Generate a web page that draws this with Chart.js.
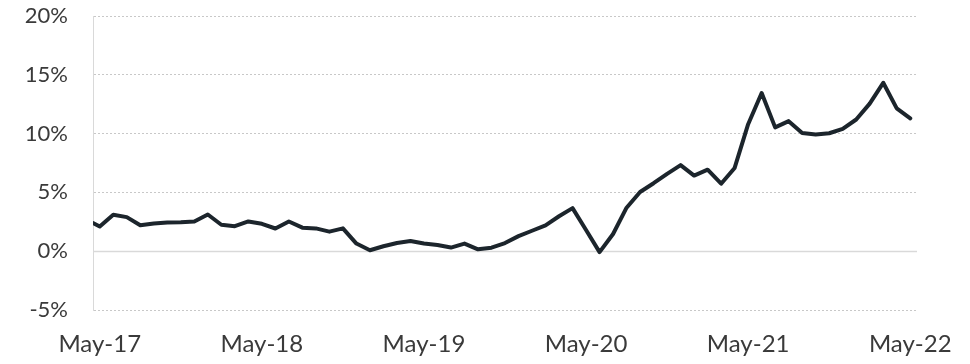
<!DOCTYPE html>
<html>
<head>
<meta charset="utf-8">
<script src="https://cdn.jsdelivr.net/npm/chart.js@4/dist/chart.umd.min.js"></script>
<style>
    html, body { margin: 0; padding: 0; background: #fff; }
    #wrap { width: 970px; height: 364px; position: relative; }
</style>
</head>
<body>
<div id="wrap"><canvas id="chart"></canvas></div>
<script>
// ============================================================================
// Data
// ============================================================================

// monthly points, May-17 .. May-22
const months = [
    'May-17', 'Jun-17', 'Jul-17', 'Aug-17', 'Sep-17', 'Oct-17', 'Nov-17', 'Dec-17', 'Jan-18', 'Feb-18', 'Mar-18', 'Apr-18',
    'May-18', 'Jun-18', 'Jul-18', 'Aug-18', 'Sep-18', 'Oct-18', 'Nov-18', 'Dec-18', 'Jan-19', 'Feb-19', 'Mar-19', 'Apr-19',
    'May-19', 'Jun-19', 'Jul-19', 'Aug-19', 'Sep-19', 'Oct-19', 'Nov-19', 'Dec-19', 'Jan-20', 'Feb-20', 'Mar-20', 'Apr-20',
    'May-20', 'Jun-20', 'Jul-20', 'Aug-20', 'Sep-20', 'Oct-20', 'Nov-20', 'Dec-20', 'Jan-21', 'Feb-21', 'Mar-21', 'Apr-21',
    'May-21', 'Jun-21', 'Jul-21', 'Aug-21', 'Sep-21', 'Oct-21', 'Nov-21', 'Dec-21', 'Jan-22', 'Feb-22', 'Mar-22', 'Apr-22',
    'May-22'
];

// percent
const values = [
    2.10, 3.10, 2.90, 2.20, 2.35, 2.45, 2.47, 2.53, 3.12, 2.25, 2.13, 2.53,
    2.33, 1.93, 2.53, 2.00, 1.94, 1.66, 1.94, 0.65, 0.08, 0.42, 0.70, 0.87,
    0.65, 0.53, 0.31, 0.65, 0.16, 0.30, 0.69, 1.28, 1.74, 2.20, 2.97, 3.66,
    1.80, -0.08, 1.46, 3.70, 5.03, 5.78, 6.58, 7.32, 6.43, 6.93, 5.74, 7.08,
    10.80, 13.45, 10.53, 11.06, 10.06, 9.93, 10.03, 10.40, 11.20, 12.55, 14.32, 12.15,
    11.30
];

// the line already starts at the axis edge, half a month before May-17
const leadValue = 2.39;

const tickLabels = ['May-17', 'May-18', 'May-19', 'May-20', 'May-21', 'May-22'];
const yTicks = [-5, 0, 5, 10, 15, 20];

// ============================================================================
// Chart
// ============================================================================

const points = [{ x: -0.5, y: leadValue }].concat(
    values.map((v, i) => ({ x: i, y: v }))
);

const zeroLine = {
    id: 'zeroLine',
    beforeDatasetsDraw(chart) {
        const { ctx, chartArea, scales } = chart;
        const y = Math.round(scales.y.getPixelForValue(0)) + 0.5;
        ctx.save();
        ctx.strokeStyle = '#d9d9d9';
        ctx.lineWidth = 1.5;
        ctx.beginPath();
        ctx.moveTo(chartArea.left, y);
        ctx.lineTo(chartArea.right, y);
        ctx.stroke();
        ctx.restore();
    }
};

new Chart(document.getElementById('chart'), {
    type: 'line',
    data: {
        datasets: [{
            data: points,
            borderColor: '#1c252c',
            borderWidth: 4,
            pointRadius: 0,
            tension: 0,
            borderJoinStyle: 'round',
            borderCapStyle: 'round'
        }]
    },
    options: {
        responsive: true,
        maintainAspectRatio: false,
        animation: false,
        layout: { padding: { left: 0, right: 53, top: 16, bottom: 0 } },
        plugins: {
            legend: { display: false },
            tooltip: { enabled: false }
        },
        scales: {
            x: {
                type: 'linear',
                min: -0.5,
                max: 60.5,
                afterBuildTicks(scale) {
                    scale.ticks = tickLabels.map(t => ({ value: months.indexOf(t) }));
                },
                afterFit(scale) {
                    scale.height = 54;
                    scale.paddingLeft = 0;
                    scale.paddingRight = 0;
                },
                ticks: {
                    autoSkip: false,
                    maxRotation: 0,
                    padding: 20,
                    color: '#3a3a3a',
                    font: { family: 'Lato', size: 24 },
                    callback: v => months[v]
                },
                grid: { display: false, drawTicks: false },
                border: { display: false }
            },
            y: {
                min: -5,
                max: 20,
                afterBuildTicks(scale) {
                    scale.ticks = yTicks.map(v => ({ value: v }));
                },
                afterFit(scale) {
                    scale.width = 93;
                    scale.paddingTop = 0;
                    scale.paddingBottom = 0;
                },
                ticks: {
                    padding: 25,
                    color: '#3a3a3a',
                    font: { family: 'Lato', size: 22 },
                    callback: v => v + '%'
                },
                grid: {
                    drawTicks: false,
                    lineWidth: 1,
                    color: ctx => ctx.tick && ctx.tick.value === 0 ? 'rgba(0,0,0,0)' : '#c8c8c8'
                },
                border: { display: true, color: '#d9d9d9', width: 1, dash: [2, 2] }
            }
        }
    },
    plugins: [zeroLine]
});
</script>
</body>
</html>
